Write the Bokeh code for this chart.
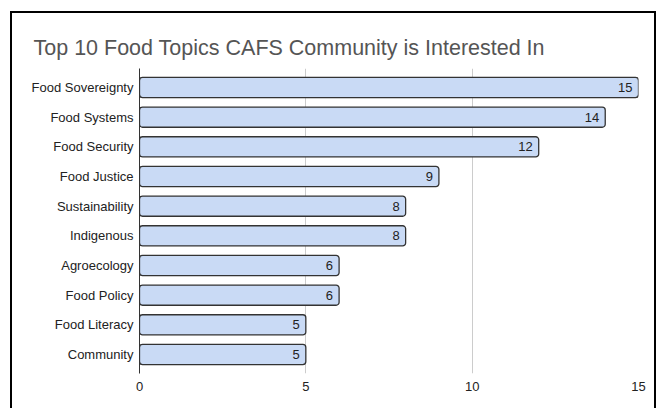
from bokeh.plotting import figure
from bokeh.models import Range1d, FactorRange, ColumnDataSource, FixedTicker, InlineStyleSheet
from bokeh.core.properties import value
from bokeh.embed import file_html
from bokeh.resources import INLINE

topics = ["Food Sovereignty", "Food Systems", "Food Security", "Food Justice", "Sustainability",
          "Indigenous", "Agroecology", "Food Policy", "Food Literacy", "Community"]
counts = [15, 14, 12, 9, 8, 8, 6, 6, 5, 5]
x_ticks = [0, 5, 10, 15]
title_text = "Top 10 Food Topics CAFS Community is Interested In"

FONT = "Liberation Sans"

p = figure(width=660, height=408, output_backend="svg", toolbar_location=None,
           y_range=FactorRange(factors=list(reversed(topics)), range_padding=0.14,
                               range_padding_units="absolute"),
           x_range=Range1d(0, 15),
           min_border_left=139, min_border_right=22, min_border_top=68, min_border_bottom=35,
           title=title_text)

p.title.text_font = FONT
p.title.text_font_size = "21.5px"
p.title.text_font_style = "normal"
p.title.text_color = "#555555"
p.title.align = "left"
p.title.offset = -106
p.title.standoff = 17

src = ColumnDataSource(dict(topic=topics, count=counts, label=[str(c) for c in counts]))
p.hbar(y="topic", left=0, right="count", height=0.68, source=src,
       fill_color="#c9daf5", line_color="#333333", line_width=1.3, border_radius=3)
p.text(x="count", y="topic", text="label", source=src, x_offset=-6,
       text_align="right", text_baseline="middle", text_font=value(FONT),
       text_font_size="13px", text_color="#222222")

p.outline_line_color = None
p.ygrid.grid_line_color = None
p.xgrid.grid_line_color = "#cccccc"
p.xgrid.ticker = FixedTicker(ticks=x_ticks)
p.xaxis.ticker = FixedTicker(ticks=x_ticks)
p.xaxis.axis_line_color = None
p.xaxis.major_tick_line_color = None
p.xaxis.minor_tick_line_color = None
p.xaxis.major_tick_out = 0
p.xaxis.major_tick_in = 0
p.xaxis.major_label_text_font = FONT
p.xaxis.major_label_text_font_size = "13px"
p.xaxis.major_label_text_color = "#222222"
p.xaxis.major_label_standoff = 8

p.yaxis.axis_line_color = "#333333"
p.yaxis.axis_line_width = 1
p.yaxis.major_tick_line_color = None
p.yaxis.minor_tick_line_color = None
p.yaxis.major_tick_out = 0
p.yaxis.major_tick_in = 0
p.yaxis.major_label_text_font = FONT
p.yaxis.major_label_text_font_size = "13px"
p.yaxis.major_label_text_color = "#222222"
p.yaxis.major_label_standoff = 6

p.stylesheets = [InlineStyleSheet(css=(
    ":host::after { content: ''; position: absolute; left: 10px; top: 11px; "
    "width: 646px; height: 420px; border: 2px solid #000; pointer-events: none; "
    "box-sizing: border-box; }"
))]

open("out.html", "w").write(file_html(p, INLINE))
